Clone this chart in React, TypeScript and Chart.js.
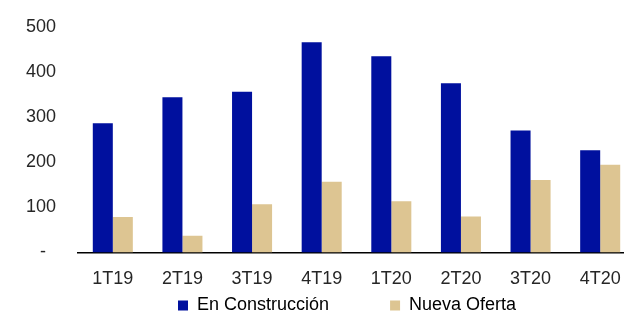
import React, { useEffect, useRef } from "react";
import { Chart, registerables } from "chart.js";

Chart.register(...registerables);

const categories = ["1T19", "2T19", "3T19", "4T19", "1T20", "2T20", "3T20", "4T20"];
const enConstruccion = [287, 345, 357, 467, 436, 376, 271, 227];
const nuevaOferta = [79, 37, 107, 157, 114, 80, 161, 195];
const seriesNames = ["En Construcción", "Nueva Oferta"];
const yTicks = [0, 100, 200, 300, 400, 500];
const yTickLabels = ["-  ", "100", "200", "300", "400", "500"];

const BLUE = "#00109E";
const BEIGE = "#DDC592";
const TEXT = "#262626";
const FONT = "'Liberation Sans', Arial, sans-serif";

const legendShift = {
  id: "legendShift",
  afterLayout(chart: any) {
    const l = chart.legend;
    if (!l) return;
    const dx = 172 - l.left;
    l.left += dx;
    l.right += dx;
    const dy = -14.6;
    l.top += dy;
    l.bottom += dy;
  },
};

export default function App() {
  const ref = useRef<HTMLCanvasElement | null>(null);
  useEffect(() => {
    if (!ref.current) return;
    const chart = new Chart(ref.current, {
      type: "bar",
      data: {
        labels: categories,
        datasets: [
          { label: seriesNames[0], data: enConstruccion, backgroundColor: BLUE, borderWidth: 0 },
          { label: seriesNames[1], data: nuevaOferta, backgroundColor: BEIGE, borderWidth: 0 },
        ],
      },
      plugins: [legendShift],
      options: {
        responsive: false,
        animation: false,
        layout: { padding: { top: 27.5, right: 5, left: 0, bottom: -27.1 } },
        datasets: { bar: { barPercentage: 1, categoryPercentage: 0.575 } },
        plugins: {
          tooltip: { enabled: false },
          legend: {
            position: "bottom",
            align: "start",
            labels: {
              boxWidth: 10,
              boxHeight: 10,
              padding: 6,
              color: TEXT,
              font: { family: FONT, size: 18 },
              generateLabels: (chart: any) =>
                chart.data.datasets.map((ds: any, i: number) => ({
                  text: i === 0 ? ds.label + "           " : ds.label,
                  fillStyle: ds.backgroundColor,
                  strokeStyle: ds.backgroundColor,
                  lineWidth: 0,
                  hidden: false,
                  datasetIndex: i,
                })),
            },
          },
        },
        scales: {
          x: {
            grid: { display: false, drawTicks: false },
            border: { display: true, color: "#000", width: 1.5 },
            ticks: { color: TEXT, font: { family: FONT, size: 18 }, padding: 15.5, maxRotation: 0, autoSkip: false },
          },
          y: {
            min: 0,
            max: 500,
            afterFit: (s: any) => {
              s.width = 78;
              s.paddingTop = 0;
              s.paddingBottom = 0;
            },
            afterBuildTicks: (s: any) => { s.ticks = yTicks.map((v) => ({ value: v })); },
            grid: { display: false, drawTicks: false },
            border: { display: false },
            ticks: {
              color: TEXT,
              padding: 22,
              font: { family: FONT, size: 18 },
              callback: (v: any) => yTickLabels[yTicks.indexOf(Number(v))] ?? String(v),
            },
          },
        },
      },
    });
    return () => chart.destroy();
  }, []);
  return (
    <div style={{ position: "absolute", left: 0, top: 0, width: 624, height: 312, overflow: "hidden", background: "#fff" }}>
      <canvas ref={ref} width={640} height={312} style={{ display: "block" }} />
    </div>
  );
}
